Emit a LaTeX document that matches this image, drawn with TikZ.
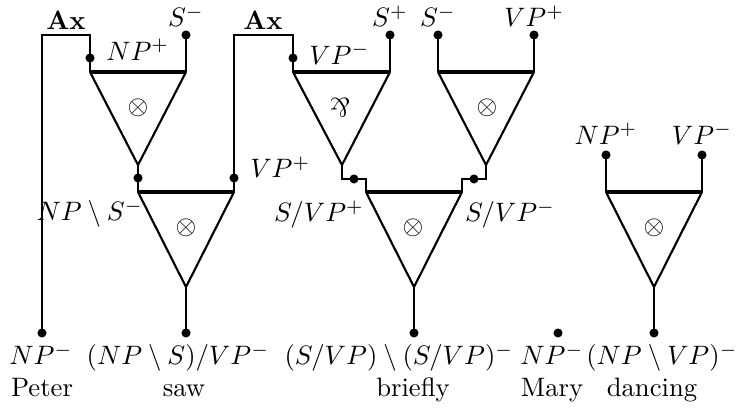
\documentclass[tikz,border=0pt]{standalone}
\usetikzlibrary{positioning}

\begin{document}
\begin{tikzpicture}[x=0.375pt,y=-0.375pt,
    wire/.style={line width=0.8pt},
    bar/.style={line width=1.2pt},
    dot/.style={circle,fill=black,inner sep=0pt,minimum size=3.4pt},
    pol/.style={inner sep=1pt},
    word/.style={anchor=base,inner sep=0pt}]
  \useasboundingbox (0,0) rectangle (747,409);

  % links: top left, top right, tip
  \coordinate (a1) at (90,72);   \coordinate (b1) at (186,72);  \coordinate (c1) at (138,165);
  \coordinate (a2) at (138,192); \coordinate (b2) at (234,192); \coordinate (c2) at (186,287);
  \coordinate (a3) at (293,72);  \coordinate (b3) at (390,72);  \coordinate (c3) at (342,165);
  \coordinate (a4) at (438,72);  \coordinate (b4) at (534,72);  \coordinate (c4) at (486,165);
  \coordinate (a5) at (366,192); \coordinate (b5) at (462,192); \coordinate (c5) at (414,287);
  \coordinate (a6) at (606,192); \coordinate (b6) at (702,192); \coordinate (c6) at (654,287);

  \draw[wire] (a1) -- (c1) -- (b1);  \draw[bar] (a1) -- (b1);
  \draw[wire] (a2) -- (c2) -- (b2);  \draw[bar] (a2) -- (b2);
  \draw[wire] (a3) -- (c3) -- (b3);  \draw[bar] (a3) -- (b3);
  \draw[wire] (a4) -- (c4) -- (b4);  \draw[bar] (a4) -- (b4);
  \draw[wire] (a5) -- (c5) -- (b5);  \draw[bar] (a5) -- (b5);
  \draw[wire] (a6) -- (c6) -- (b6);  \draw[bar] (a6) -- (b6);

  \node (op1) at (138,108) {$\otimes$};
  \node (op2) at (186,228) {$\otimes$};
  \node (op3) at (340,108) {\rotatebox[origin=c]{180}{$\&$}};
  \node (op4) at (487,108) {$\otimes$};
  \node (op5) at (413,228) {$\otimes$};
  \node (op6) at (654,228) {$\otimes$};

  % conclusions
  \node[dot] (peter) at (42,333) {};
  \node[dot] (saw) at (186,333) {};
  \node[dot] (briefly) at (414,333) {};
  \node[dot] (mary) at (558,333) {};
  \node[dot] (dancing) at (654,333) {};
  % premisses
  \node[dot] (np1) at (90,58) {};
  \node[dot] (s1) at (186,35) {};
  \node[dot] (nps) at (138,178) {};
  \node[dot] (vp1) at (234,178) {};
  \node[dot] (vp2) at (293,58) {};
  \node[dot] (s2) at (390,35) {};
  \node[dot] (svp1) at (354,179) {};
  \node[dot] (s3) at (438,35) {};
  \node[dot] (vp3) at (534,35) {};
  \node[dot] (svp2) at (474,179) {};
  \node[dot] (np4) at (606,155) {};
  \node[dot] (vp4) at (702,155) {};

  \coordinate (ax1) at (66,35);
  \coordinate (ax2) at (263,35);

  % axioms
  \draw[wire] (peter.center) |- (ax1) -| (a1);
  \draw[wire] (b2) -- (vp1.center) |- (ax2) -| (a3);
  \draw[wire] (s1.center) -- (b1);
  \draw[wire] (s2.center) -- (b3);
  \draw[wire] (s3.center) -- (a4);
  \draw[wire] (vp3.center) -- (b4);
  \draw[wire] (np4.center) -- (a6);
  \draw[wire] (vp4.center) -- (b6);
  % cuts and conclusions
  \draw[wire] (c1) -- (a2);
  \draw[wire] (c3) |- (svp1.center) -| (a5);
  \draw[wire] (c4) |- (svp2.center) -| (b5);
  \draw[wire] (c2) -- (saw.center);
  \draw[wire] (c5) -- (briefly.center);
  \draw[wire] (c6) -- (dancing.center);

  % formulas
  \node[pol,above=1pt of ax1] (axl1) {\textbf{Ax}};
  \node[pol,above=1pt of ax2] (axl2) {\textbf{Ax}};
  \node[pol,above=0pt of s1] (ls1) {$S^-$};
  \node[pol,above=0pt of s2] (ls2) {$S^+$};
  \node[pol,above=0pt of s3] (ls3) {$S^-$};
  \node[pol,above=0pt of vp3] (lvp3) {$VP^+$};
  \node[pol,above=1pt of np4] (lnp4) {$NP^+$};
  \node[pol,above=1pt of vp4] (lvp4) {$VP^-$};
  \node[pol,anchor=base west] (lnp1) at ([xshift=3pt,yshift=-1pt]np1.east) {$NP^+$};
  \node[pol,anchor=base west] (lvp2) at ([xshift=3pt,yshift=-2.5pt]vp2.east) {$VP^-$};
  \node[pol,anchor=base west] (lvp1) at ([xshift=3pt]vp1.east) {$VP^+$};
  \node[pol,anchor=base east] (lnps) at (146,221) {$NP\setminus S^-$};
  \node[pol,anchor=base east] (lsvp1) at (367,222) {$S/VP^+$};
  \node[pol,anchor=base west] (lsvp2) at (462,222) {$S/VP^-$};

  % lexicon
  \node[word] (tpeter) at (41,365) {$NP^-$};
  \node[word] (wpeter) at (42,397) {Peter};
  \node[word] (tsaw) at (178,365) {$(NP\setminus S)/VP^-$};
  \node[word] (wsaw) at (184,397) {saw};
  \node[word] (tbriefly) at (399,365) {$(S/VP)\setminus(S/VP)^-$};
  \node[word] (wbriefly) at (413,397) {briefly};
  \node[word] (tmary) at (552,365) {$NP^-$};
  \node[word] (wmary) at (552,397) {Mary};
  \node[word] (tdancing) at (662,365) {$(NP\setminus VP)^-$};
  \node[word] (wdancing) at (652,397) {dancing};
\end{tikzpicture}
\end{document}
